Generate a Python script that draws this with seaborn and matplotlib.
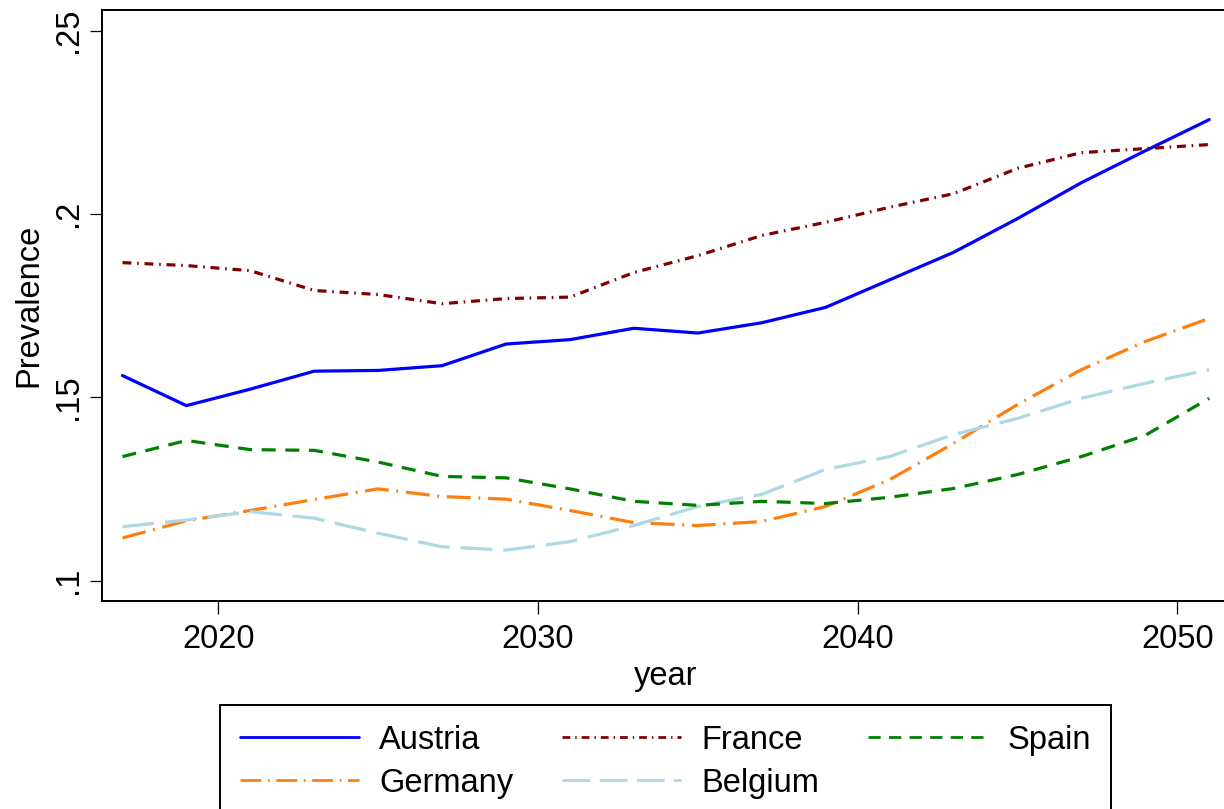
import numpy as np
import pandas as pd
import matplotlib
matplotlib.use("Agg")
import matplotlib.pyplot as plt
import seaborn as sns

years = list(range(2017, 2052, 2))

austria = [0.1559, 0.1477, 0.1522, 0.1571, 0.1573, 0.1586, 0.1645, 0.1657, 0.1688,
           0.1675, 0.1703, 0.1745, 0.1820, 0.1895, 0.1987, 0.2085, 0.2172, 0.2257]
france = [0.1867, 0.1859, 0.1845, 0.1791, 0.1780, 0.1755, 0.1769, 0.1773, 0.1840,
          0.1886, 0.1941, 0.1977, 0.2018, 0.2055, 0.2124, 0.2167, 0.2178, 0.2189]
spain = [0.1338, 0.1382, 0.1357, 0.1355, 0.1323, 0.1284, 0.1280, 0.1250, 0.1216,
         0.1205, 0.1216, 0.1210, 0.1227, 0.1251, 0.1289, 0.1338, 0.1396, 0.1497]
germany = [0.1116, 0.1163, 0.1191, 0.1221, 0.1250, 0.1229, 0.1222, 0.1191, 0.1158,
           0.1150, 0.1161, 0.1202, 0.1275, 0.1374, 0.1480, 0.1575, 0.1652, 0.1715]
belgium = [0.1147, 0.1165, 0.1188, 0.1170, 0.1129, 0.1092, 0.1083, 0.1106, 0.1150,
           0.1202, 0.1235, 0.1303, 0.1338, 0.1398, 0.1442, 0.1497, 0.1538, 0.1575]

countries = ["Austria", "Germany", "France", "Belgium", "Spain"]
series = {"Austria": austria, "Germany": germany, "France": france,
          "Belgium": belgium, "Spain": spain}

x_ticks = [2020, 2030, 2040, 2050]
y_ticks = [0.10, 0.15, 0.20, 0.25]
y_ticklabels = [".1", ".15", ".2", ".25"]

palette = {"Austria": "#0000FF", "France": "#800000", "Spain": "#008000",
           "Germany": "#FF7F0E", "Belgium": "#ADD8E6"}
dashes = {"Austria": "", "France": (2.8, 1.8, 0.5, 1.8),
          "Spain": (4.4, 3.0), "Germany": (7.5, 2.4, 0.6, 2.4),
          "Belgium": (10, 3.4)}

df = pd.DataFrame([{"year": y, "Prevalence": v, "country": c}
                   for c in countries for y, v in zip(years, series[c])])

sns.set_style("ticks")
plt.rcParams["font.family"] = ["Liberation Sans", "DejaVu Sans"]
plt.rcParams["text.color"] = "black"
plt.rcParams["axes.labelcolor"] = "black"
plt.rcParams["xtick.color"] = "black"
plt.rcParams["ytick.color"] = "black"

FS = 23.5
W, H = 1224, 809
fig = plt.figure(figsize=(W / 100, H / 100), dpi=100)
left, right, top, bottom = 101.7, 1230, 10, 600.7
ax = fig.add_axes([left / W, 1 - bottom / H, (right - left) / W, (bottom - top) / H])

sns.lineplot(data=df, x="year", y="Prevalence", hue="country", style="country",
             hue_order=countries, style_order=countries, palette=palette,
             dashes=dashes, linewidth=2.3, ax=ax, legend=True)

handles, labels = ax.get_legend_handles_labels()
ax.get_legend().remove()

ax.set_xlim(2016.35, 2051.65)
ax.set_ylim(0.0945, 0.2556)
ax.set_xticks(x_ticks)
ax.set_xticklabels([str(t) for t in x_ticks])
ax.set_yticks(y_ticks)
ax.set_yticklabels(y_ticklabels, rotation=90, va="center")
ax.tick_params(axis="both", length=9, width=0.9, labelsize=FS,
               color="black", labelcolor="black")
ax.tick_params(axis="x", pad=8)
ax.tick_params(axis="y", pad=4)
for s in ax.spines.values():
    s.set_linewidth(1.4)
    s.set_color("black")
ax.set_xlabel("year", fontsize=FS, labelpad=4, color="black")
ax.set_ylabel("Prevalence", fontsize=FS, labelpad=6, color="black")

leg = fig.legend(handles, labels, ncol=3, loc="upper left",
                 bbox_to_anchor=(220 / W, 1 - 705 / H), frameon=True,
                 fancybox=False, edgecolor="black", framealpha=1,
                 fontsize=FS, handlelength=3.65, handletextpad=0.62,
                 columnspacing=1.5, labelspacing=0.37, borderpad=0.6,
                 borderaxespad=0)
leg.get_frame().set_linewidth(1.4)
for h in leg.get_lines():
    h.set_linewidth(2.0)
for t in leg.get_texts():
    t.set_color("black")

fig.savefig("out.png", dpi=100, facecolor="white")
